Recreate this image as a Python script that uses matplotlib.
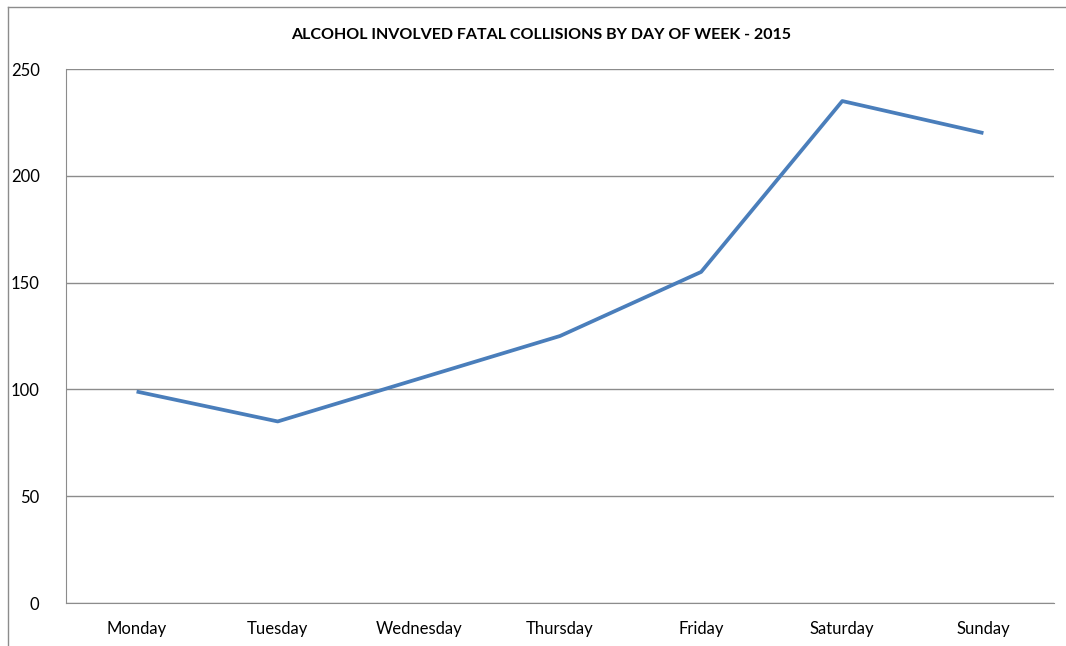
import matplotlib.pyplot as plt
from matplotlib.lines import Line2D

days = ["Monday", "Tuesday", "Wednesday", "Thursday", "Friday", "Saturday", "Sunday"]
collisions = [99, 85, 105, 125, 155, 235, 220]
y_ticks = [0, 50, 100, 150, 200, 250]
title = "ALCOHOL INVOLVED FATAL COLLISIONS BY DAY OF WEEK - 2015"

plt.rcParams["font.family"] = ["Lato", "DejaVu Sans"]

W, H = 1066, 646
fig = plt.figure(figsize=(W / 100, H / 100), dpi=100)
fig.patch.set_facecolor("white")

# outer chart frame: only top and left edges are visible, the rest is cut off
frame_color = "#8c8c8c"
fig.add_artist(Line2D([8 / W, 1.0], [1 - 7 / H, 1 - 7 / H], transform=fig.transFigure,
                      color=frame_color, linewidth=1.0))
fig.add_artist(Line2D([8 / W, 8 / W], [0.0, 1 - 7 / H], transform=fig.transFigure,
                      color=frame_color, linewidth=1.0))

ax = fig.add_axes([66 / W, 1 - 603 / H, (1054 - 66) / W, (603 - 69) / H])
x = list(range(len(days)))
ax.plot(x, collisions, color="#4a7ebb", linewidth=2.7, solid_capstyle="butt")

ax.set_xlim(-0.5, len(days) - 0.5)
ax.set_ylim(0, 250)
ax.set_yticks(y_ticks)
ax.set_xticks(x)
ax.set_xticklabels(days)
ax.grid(axis="y", color=frame_color, linewidth=1.0)
ax.set_axisbelow(True)
for side in ["top", "right"]:
    ax.spines[side].set_visible(False)
for side in ["left", "bottom"]:
    ax.spines[side].set_color(frame_color)
ax.tick_params(axis="both", length=0, labelsize=12, colors="black")
ax.tick_params(axis="y", pad=19)
ax.tick_params(axis="x", pad=13)

fig.text(541 / W, 1 - 35 / H, title, ha="center", va="center", fontsize=11.5, fontweight="bold")

fig.savefig("out.png", dpi=100)
